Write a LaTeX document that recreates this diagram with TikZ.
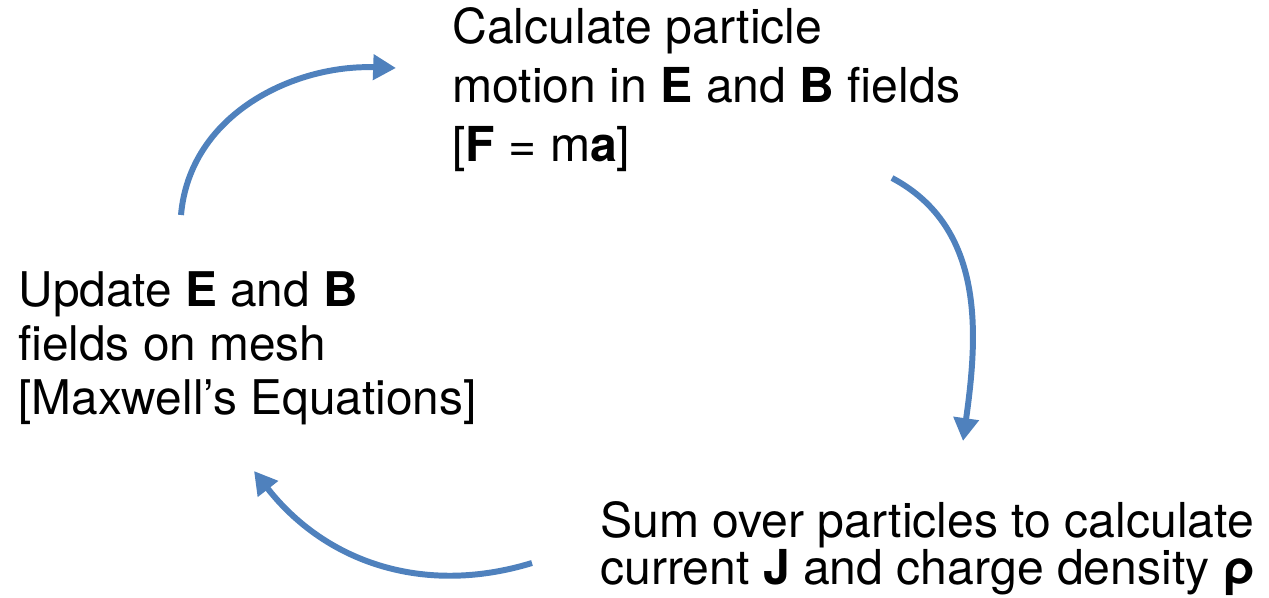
\documentclass[tikz,border=0pt]{standalone}
\usepackage{fontspec}
\setmainfont{TeX Gyre Heros}
\usetikzlibrary{arrows.meta, positioning}
\definecolor{loopblue}{HTML}{4F81BD}

\begin{document}
\begin{tikzpicture}[x=0.02cm, y=0.02cm, >={Triangle[length=13pt, width=14pt]},
    stage/.style={anchor=north west, inner sep=0pt, align=left},
    cyclearrow/.style={->, loopblue, line width=3.4pt}]
  \useasboundingbox (0,0) rectangle (1269,-598);

  % Stufen des Zyklus
  \node[stage, font=\fontsize{27.4}{33.6}\selectfont] (motion) at (452,-7.5)
    {Calculate particle\\motion in \textbf{E} and \textbf{B} fields\\{[}\textbf{F} = m\textbf{a}{]}};
  \node[stage, font=\fontsize{27.2}{30.7}\selectfont] (fields) at (18,-271)
    {Update \textbf{E} and \textbf{B}\\fields on mesh\\{[}Maxwell’s Equations{]}};
  \node[stage, font=\fontsize{27.4}{25.6}\selectfont] (deposit) at (600,-501)
    {Sum over particles to calculate\\current \textbf{J} and charge density \textbf{ρ}};

  % Pfeile
  \coordinate (a1s) at (181,-215);
  \coordinate (a1e) at (396,-68);
  \coordinate (a2s) at (892,-178);
  \coordinate (a2e) at (963,-441);
  \coordinate (a3s) at (532,-563);
  \coordinate (a3e) at (254,-471);
  \draw[cyclearrow] (a1s) to[out=85, in=178] (a1e);
  \draw[cyclearrow] (a2s) to[out=-28, in=82] (a2e);
  \draw[cyclearrow] (a3s) to[out=197, in=-52] (a3e);
\end{tikzpicture}
\end{document}
